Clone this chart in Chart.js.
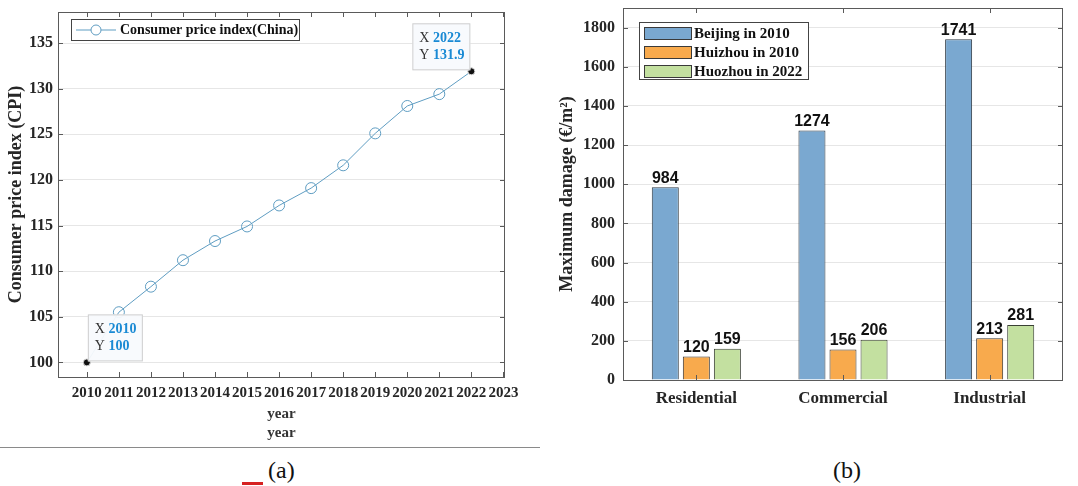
<!DOCTYPE html>
<html>
<head>
<meta charset="utf-8">
<script src="https://cdn.jsdelivr.net/npm/chart.js@4.4.1/dist/chart.umd.min.js"></script>
<style>
  body { margin: 0; background: #fff; width: 1078px; height: 486px; position: relative; overflow: hidden; }
  #boxA { position: absolute; left: 0; top: 0; width: 540px; height: 443px; }
  #boxB { position: absolute; left: 540px; top: 0; width: 538px; height: 440px; }
  .cap { position: absolute; top: 457px; font-family: "Liberation Serif", serif; font-size: 24px; color: #111; line-height: 1.1; }
  #sep { position: absolute; left: 0; top: 447px; width: 540px; height: 1px; background: #8a8a8a; }
  #red { position: absolute; left: 242px; top: 482px; width: 21px; height: 3px; background: #d62222; }
</style>
</head>
<body>
<div id="boxA"><canvas id="chartCPI"></canvas></div>
<div id="boxB"><canvas id="chartDamage"></canvas></div>
<div id="sep"></div>
<div class="cap" style="left:268px">(a)</div>
<div class="cap" style="left:833px">(b)</div>
<div id="red"></div>
<script>
// dados do grafico (a)
const anos = [2010, 2011, 2012, 2013, 2014, 2015, 2016, 2017, 2018, 2019, 2020, 2021, 2022];
const cpi = [100, 105.5, 108.3, 111.2, 113.3, 114.9, 117.2, 119.1, 121.6, 125.1, 128.1, 129.4, 131.9];
const ticksAnos = [2010, 2011, 2012, 2013, 2014, 2015, 2016, 2017, 2018, 2019, 2020, 2021, 2022, 2023];
const ticksCpi = [100, 105, 110, 115, 120, 125, 130, 135];

// dados do grafico (b)
const categorias = ["Residential", "Commercial", "Industrial"];
const beijing2010 = [984, 1274, 1741];
const huizhou2010 = [120, 156, 213];
const huozhou2022 = [159, 206, 281];
const ticksDano = [0, 200, 400, 600, 800, 1000, 1200, 1400, 1600, 1800];

const serif = "'Liberation Serif', 'Times New Roman', serif";
const eixoCor = "#5a5a5a";

// tira o padding automatico das escalas (so o layout.padding conta)
function semPadding(s) {
  s.paddingTop = 0; s.paddingBottom = 0; s.paddingLeft = 0; s.paddingRight = 0;
}

// caixa do eixo com ticks para dentro (estilo matlab)
const caixaPlugin = {
  id: "caixa",
  afterDraw(chart) {
    const ctx = chart.ctx;
    const a = chart.chartArea;
    const sx = chart.scales.x, sy = chart.scales.y;
    ctx.save();
    ctx.strokeStyle = eixoCor;
    ctx.lineWidth = 1;
    ctx.strokeRect(a.left + 0.5, a.top + 0.5, a.right - a.left - 1, a.bottom - a.top);
    ctx.beginPath();
    sx.ticks.forEach((t, i) => {
      const px = Math.round(sx.getPixelForTick(i)) + 0.5;
      ctx.moveTo(px, a.bottom); ctx.lineTo(px, a.bottom - 5);
      ctx.moveTo(px, a.top); ctx.lineTo(px, a.top + 5);
    });
    sy.ticks.forEach(t => {
      const py = Math.round(sy.getPixelForValue(t.value)) + 0.5;
      ctx.moveTo(a.left, py); ctx.lineTo(a.left + 5, py);
      ctx.moveTo(a.right, py); ctx.lineTo(a.right - 5, py);
    });
    ctx.stroke();
    ctx.restore();
  }
};

// data tips do grafico (a)
const dataTipPlugin = {
  id: "dataTip",
  afterDraw(chart) {
    const ctx = chart.ctx;
    const meta = chart.getDatasetMeta(0);
    const tips = [
      { i: 0, lado: 1 },
      { i: anos.length - 1, lado: -1 }
    ];
    ctx.save();
    tips.forEach(tp => {
      const pt = meta.data[tp.i];
      const w = tp.lado > 0 ? 55 : 58, h = 47;
      const x0 = tp.lado > 0 ? pt.x + 1 : pt.x - w - 1;
      const y0 = pt.y - h - 1;
      ctx.fillStyle = "rgba(248,250,253,0.95)";
      ctx.strokeStyle = "#cfcfcf";
      ctx.lineWidth = 1;
      ctx.fillRect(x0, y0, w, h);
      ctx.strokeRect(x0 + 0.5, y0 + 0.5, w - 1, h - 1);
      ctx.textBaseline = "middle";
      ctx.textAlign = "left";
      const linhas = [["X ", String(anos[tp.i])], ["Y ", String(cpi[tp.i])]];
      linhas.forEach((l, k) => {
        const ty = y0 + 15 + k * 17;
        ctx.font = "14px " + serif;
        ctx.fillStyle = "#333";
        ctx.fillText(l[0], x0 + 7, ty);
        const wx = ctx.measureText(l[0]).width;
        ctx.font = "bold 14px " + serif;
        ctx.fillStyle = "#1a8ad4";
        ctx.fillText(l[1], x0 + 7 + wx, ty);
      });
    });
    ctx.restore();
  }
};

// legenda do grafico (a)
const legendaAPlugin = {
  id: "legendaA",
  afterDraw(chart) {
    const ctx = chart.ctx;
    const ds = chart.data.datasets[0];
    ctx.save();
    ctx.fillStyle = "#fff";
    ctx.fillRect(71, 19, 228, 21);
    ctx.strokeStyle = "#444";
    ctx.lineWidth = 1;
    ctx.strokeRect(71.5, 19.5, 228, 21);
    ctx.strokeStyle = ds.borderColor;
    ctx.beginPath();
    ctx.moveTo(76, 30); ctx.lineTo(116, 30);
    ctx.stroke();
    ctx.fillStyle = "#fff";
    ctx.beginPath();
    ctx.arc(96, 30, 5, 0, Math.PI * 2);
    ctx.fill(); ctx.stroke();
    ctx.fillStyle = "#111";
    ctx.font = "bold 14px " + serif;
    ctx.textBaseline = "middle";
    ctx.fillText(ds.label, 120, 30);
    ctx.restore();
  }
};

const corLinha = "#5f9dc2";

new Chart(document.getElementById("chartCPI"), {
  type: "scatter",
  data: {
    datasets: [{
      label: "Consumer price index(China)",
      data: anos.map((a, i) => ({ x: a, y: cpi[i] })),
      showLine: true,
      borderColor: corLinha,
      borderWidth: 1,
      pointRadius: ctx => (ctx.dataIndex === 0 || ctx.dataIndex === anos.length - 1) ? 3.5 : 5.5,
      pointBackgroundColor: ctx => (ctx.dataIndex === 0 || ctx.dataIndex === anos.length - 1) ? "#111" : "rgba(255,255,255,0)",
      pointBorderColor: ctx => (ctx.dataIndex === 0 || ctx.dataIndex === anos.length - 1) ? "#d8d8d8" : corLinha,
      pointBorderWidth: 1
    }]
  },
  options: {
    responsive: true,
    maintainAspectRatio: false,
    animation: false,
    layout: { padding: { top: 12, right: 35, left: 0, bottom: 0 } },
    plugins: { legend: { display: false }, tooltip: { enabled: false } },
    scales: {
      x: {
        type: "linear",
        min: 2009.1,
        max: 2023.05,
        afterBuildTicks: s => { s.ticks = ticksAnos.map(v => ({ value: v })); },
        afterFit: s => { s.height = 66; semPadding(s); },
        grid: { display: false, drawTicks: false },
        border: { display: false },
        ticks: {
          autoSkip: false, maxRotation: 0, padding: 7,
          color: "#262626",
          font: { family: serif, size: 15, weight: "bold" },
          callback: v => String(v)
        },
        title: {
          display: true, text: ["year", "year"], color: "#333",
          font: { family: serif, size: 15, weight: "bold", lineHeight: 1.3 },
          padding: { top: 0, bottom: 0 }
        }
      },
      y: {
        min: 98.4,
        max: 138.4,
        afterBuildTicks: s => { s.ticks = ticksCpi.map(v => ({ value: v })); },
        afterFit: s => { s.width = 58; semPadding(s); },
        grid: { color: "#e6e6e6", drawTicks: false },
        border: { display: false },
        ticks: {
          padding: 5, color: "#262626",
          font: { family: serif, size: 16, weight: "bold" }
        },
        title: {
          display: true, text: "Consumer price index (CPI)", color: "#262626",
          font: { family: serif, size: 18, weight: "bold" },
          padding: { top: 6, bottom: 0 }
        }
      }
    }
  },
  plugins: [caixaPlugin, dataTipPlugin, legendaAPlugin]
});

// rotulos em cima das barras
const rotulosPlugin = {
  id: "rotulos",
  afterDatasetsDraw(chart) {
    const ctx = chart.ctx;
    ctx.save();
    ctx.font = "bold 16px 'Liberation Sans', Arial, sans-serif";
    ctx.fillStyle = "#111";
    ctx.textAlign = "center";
    ctx.textBaseline = "bottom";
    chart.data.datasets.forEach((ds, d) => {
      chart.getDatasetMeta(d).data.forEach((bar, i) => {
        ctx.fillText(String(ds.data[i]), bar.x, bar.y - 1);
      });
    });
    ctx.restore();
  }
};

// legenda do grafico (b)
const legendaBPlugin = {
  id: "legendaB",
  afterDraw(chart) {
    const ctx = chart.ctx;
    ctx.save();
    const x0 = 99, y0 = 22;
    ctx.fillStyle = "#fff";
    ctx.fillRect(x0, y0, 169, 57);
    ctx.strokeStyle = "#444";
    ctx.lineWidth = 1;
    ctx.strokeRect(x0 + 0.5, y0 + 0.5, 169, 57);
    ctx.font = "bold 15px " + serif;
    ctx.textBaseline = "middle";
    chart.data.datasets.forEach((ds, d) => {
      const cy = y0 + 11 + d * 19;
      ctx.fillStyle = ds.backgroundColor;
      ctx.fillRect(x0 + 5, cy - 6, 47, 12);
      ctx.strokeStyle = "#3a3a3a";
      ctx.strokeRect(x0 + 5.5, cy - 5.5, 47, 12);
      ctx.fillStyle = "#111";
      ctx.fillText(ds.label, x0 + 55, cy + 1);
    });
    ctx.restore();
  }
};

new Chart(document.getElementById("chartDamage"), {
  type: "bar",
  data: {
    labels: categorias,
    datasets: [
      { label: "Beijing in 2010", data: beijing2010, backgroundColor: "#7aa8d0", borderColor: "#2f3a44", borderWidth: 1 },
      { label: "Huizhou in 2010", data: huizhou2010, backgroundColor: "#f8aa4d", borderColor: "#3a3530", borderWidth: 1 },
      { label: "Huozhou in 2022", data: huozhou2022, backgroundColor: "#c3e0a0", borderColor: "#3a4034", borderWidth: 1 }
    ]
  },
  options: {
    responsive: true,
    maintainAspectRatio: false,
    animation: false,
    layout: { padding: { top: 8, right: 15, left: 0, bottom: 0 } },
    plugins: { legend: { display: false }, tooltip: { enabled: false } },
    datasets: { bar: { categoryPercentage: 0.635, barPercentage: 0.87 } },
    scales: {
      x: {
        afterFit: s => { s.height = 60; semPadding(s); },
        grid: { display: false, drawTicks: false },
        border: { display: false },
        ticks: {
          padding: 8, color: "#262626",
          font: { family: serif, size: 17, weight: "bold" }
        }
      },
      y: {
        min: 0,
        max: 1900,
        afterBuildTicks: s => { s.ticks = ticksDano.map(v => ({ value: v })); },
        afterFit: s => { s.width = 83; semPadding(s); },
        grid: { color: "#e6e6e6", drawTicks: false },
        border: { display: false },
        ticks: {
          padding: 8, color: "#262626",
          font: { family: serif, size: 16, weight: "bold" },
          callback: v => String(v)
        },
        title: {
          display: true, text: "Maximum damage (€/m²)", color: "#262626",
          font: { family: serif, size: 18, weight: "bold" },
          padding: { top: 17, bottom: 0 }
        }
      }
    }
  },
  plugins: [caixaPlugin, rotulosPlugin, legendaBPlugin]
});
</script>
</body>
</html>
